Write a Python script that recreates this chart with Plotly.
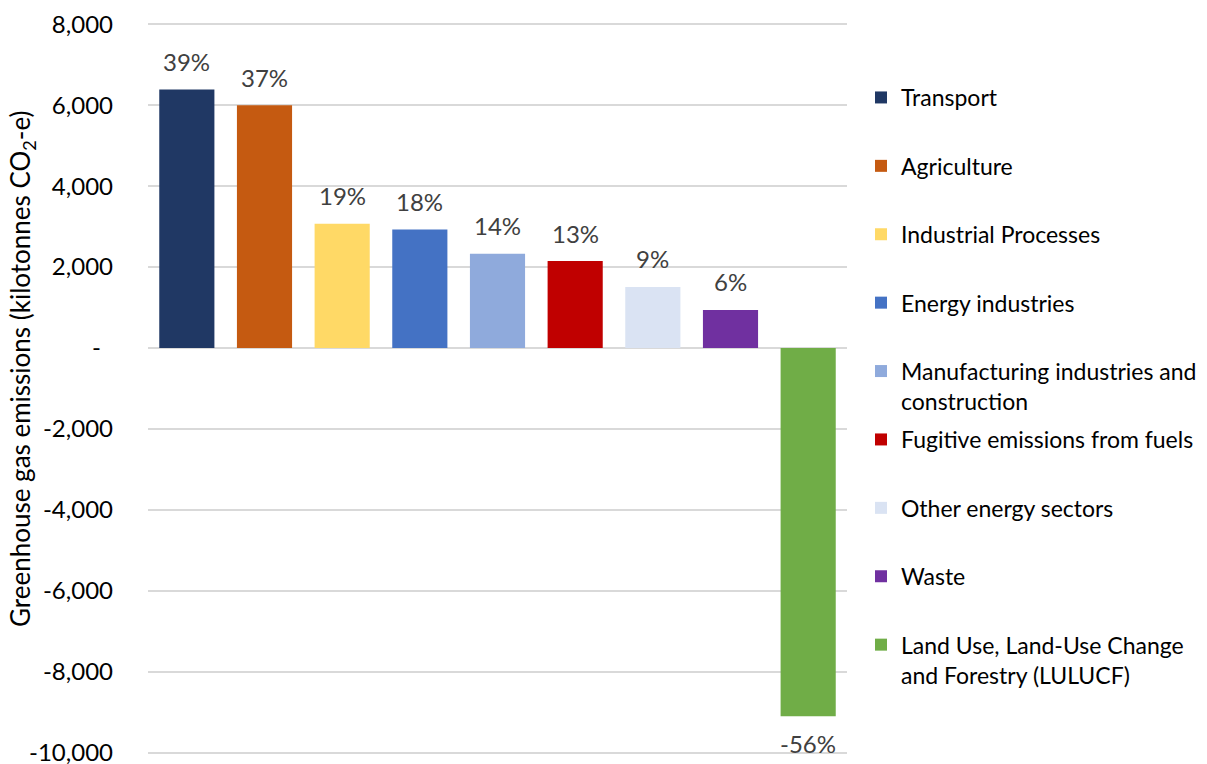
import plotly.graph_objects as go

# Sector emissions (kilotonnes CO2-e)
sectors = [
    "Transport",
    "Agriculture",
    "Industrial Processes",
    "Energy industries",
    "Manufacturing industries and<br>construction",
    "Fugitive emissions from fuels",
    "Other energy sectors",
    "Waste",
    "Land Use, Land-Use Change<br>and Forestry (LULUCF)",
]
emissions = [6390, 6000, 3070, 2930, 2330, 2150, 1510, 940, -9100]
colors = ["#203864", "#C55A11", "#FFD966", "#4472C4", "#8FAADC",
          "#C00000", "#DAE3F3", "#7030A0", "#70AD47"]

tick_vals = [8000, 6000, 4000, 2000, 0, -2000, -4000, -6000, -8000, -10000]
tick_text = ["8,000", "6,000", "4,000", "2,000", "-\u2002", "-2,000", "-4,000",
             "-6,000", "-8,000", "-10,000"]

FONT = "Lato"
net_total = sum(emissions)

fig = go.Figure()
for i, (name, val, col) in enumerate(zip(sectors, emissions, colors)):
    fig.add_trace(go.Bar(
        x=[i], y=[val], name=name, marker_color=col, marker_line_width=0,
        width=0.71, legendgroup=f"g{i}",
        legend="legend" if i < 5 else "legend2",
        hoverinfo="skip",
    ))
    pct = round(val / net_total * 100)
    fig.add_annotation(
        x=i, y=val, text=f"{pct}%", showarrow=False,
        yshift=28 if val >= 0 else -27,
        font=dict(family=FONT, size=24, color="#404040"),
    )

# Axis title placed as a rotated annotation left of the tick labels
fig.add_annotation(
    xref="paper", yref="paper", x=(22 - 148) / 699, y=(753 - 369) / 729,
    xanchor="center", yanchor="middle",
    text="Greenhouse gas emissions (kilotonnes CO<sub>2</sub>-e)",
    textangle=-90, showarrow=False,
    font=dict(family=FONT, size=26, color="#000000"),
)

legend_common = dict(
    font=dict(family=FONT, size=23, color="#000000"),
    bgcolor="rgba(0,0,0,0)", valign="top", tracegroupgap=35.5,
    xref="container", yref="container", xanchor="left", yanchor="top",
    itemclick=False, itemdoubleclick=False,
)

fig.update_layout(
    width=1207, height=764,
    margin=dict(l=148, r=360, t=23, b=10),
    paper_bgcolor="white", plot_bgcolor="white",
    barmode="overlay", showlegend=True,
    legend=dict(x=861 / 1207, y=1 - 76 / 764, **legend_common),
    legend2=dict(x=861 / 1207, y=1 - 418 / 764, **legend_common),
    xaxis=dict(range=[-0.5, len(sectors) - 0.5], showticklabels=False,
               showgrid=False, zeroline=False, showline=False,
               automargin=False, fixedrange=True),
    yaxis=dict(range=[-10030, 8030], tickvals=tick_vals, ticktext=tick_text,
               showgrid=True, gridcolor="#D9D9D9", gridwidth=1.5,
               zeroline=True, zerolinecolor="#D9D9D9", zerolinewidth=1.5,
               showline=False, ticks="", ticklabelstandoff=34,
               ticklabeloverflow="allow", automargin=False,
               tickfont=dict(family=FONT, size=24, color="#000000"),
               fixedrange=True),
)

fig.write_html("out.html")
